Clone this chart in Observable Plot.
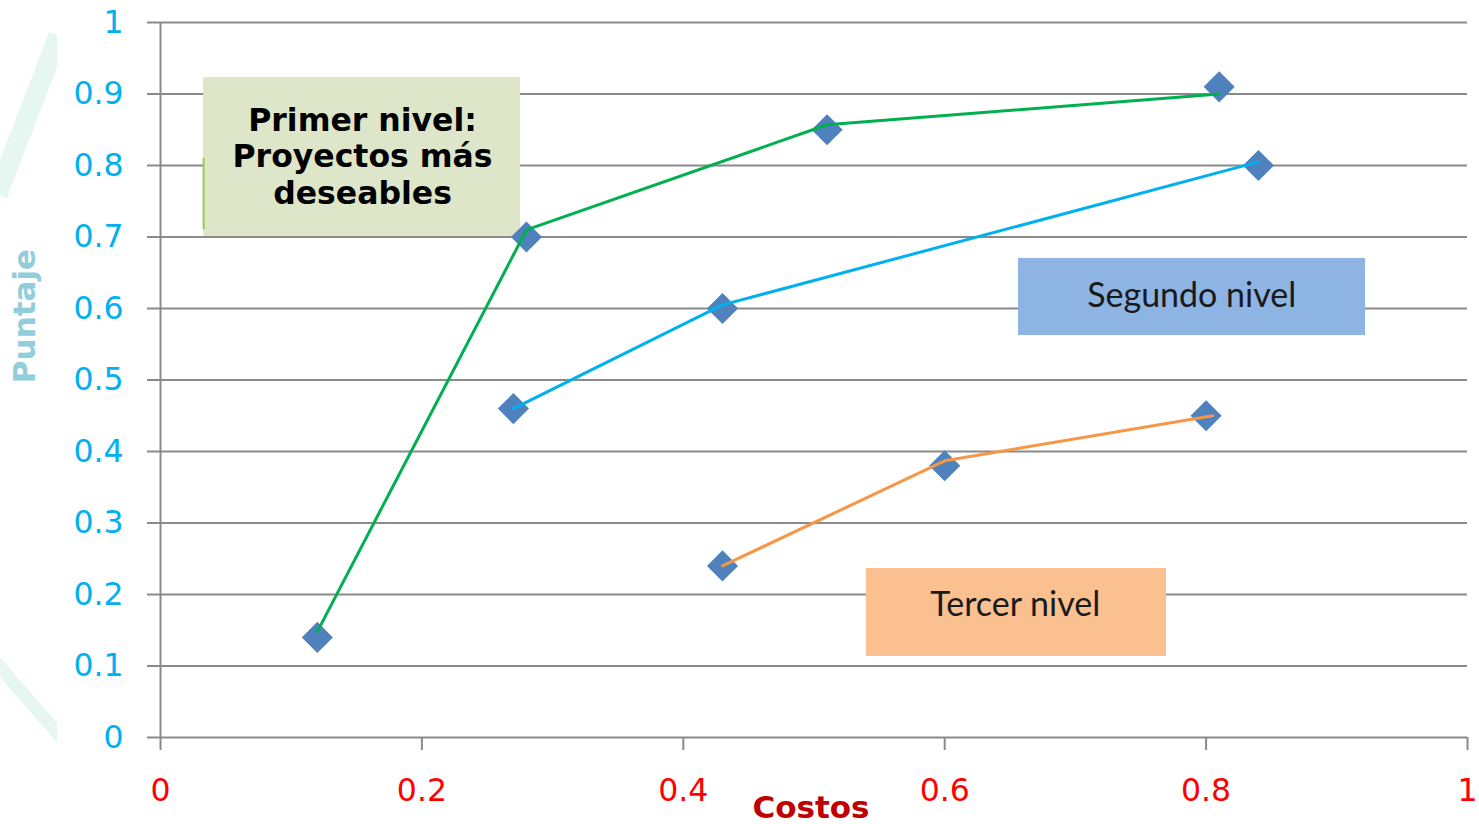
<!DOCTYPE html>
<html>
<head>
<meta charset="utf-8">
<script src="https://cdn.jsdelivr.net/npm/d3@7"></script>
<script src="https://cdn.jsdelivr.net/npm/@observablehq/plot@0.6"></script>
<style>
  html, body { margin: 0; padding: 0; background: #fff; }
  #wrap { position: relative; width: 1479px; height: 824px; overflow: hidden; }
  #decor { position: absolute; left: 0; top: 0; width: 57px; height: 824px; overflow: hidden; z-index: 0; }
  #decor .s1 { position: absolute; left: 18px; top: 30px; width: 20px; height: 170px; background: #e6f6f1; transform: rotate(21deg); }
  #decor .s2 { position: absolute; left: 22px; top: 640px; width: 13px; height: 120px; background: #e6f6f1; transform: rotate(-41deg); }
  #chart { position: absolute; left: 0; top: 0; z-index: 1; }
</style>
</head>
<body>
<div id="wrap">
  <div id="decor"><div class="s1"></div><div class="s2"></div></div>
  <div id="chart"></div>
</div>
<script>
// ---- Data ----
const xTicks = [0, 0.2, 0.4, 0.6, 0.8, 1];
const xTickLabels = ["0", "0.2", "0.4", "0.6", "0.8", "1"];
const yTicks = [0, 0.1, 0.2, 0.3, 0.4, 0.5, 0.6, 0.7, 0.8, 0.9, 1];
const yTickLabels = ["0", "0.1", "0.2", "0.3", "0.4", "0.5", "0.6", "0.7", "0.8", "0.9", "1"];

// Marker points (Costos, Puntaje)
const primerX = [0.12, 0.28, 0.51, 0.81];
const primerY = [0.14, 0.70, 0.85, 0.91];
const segundoX = [0.27, 0.43, 0.84];
const segundoY = [0.46, 0.60, 0.80];
const tercerX = [0.43, 0.60, 0.80];
const tercerY = [0.24, 0.38, 0.45];

// Connecting lines (drawn slightly off the markers, as in the original)
const primerLineX = [0.12, 0.28, 0.51, 0.81];
const primerLineY = [0.148, 0.71, 0.857, 0.90];
const segundoLineX = [0.27, 0.43, 0.84];
const segundoLineY = [0.46, 0.605, 0.805];
const tercerLineX = [0.43, 0.60, 0.805];
const tercerLineY = [0.24, 0.387, 0.45];

// Annotation boxes (data coordinates)
const boxNames = ["Primer nivel:\nProyectos más\ndeseables", "Segundo nivel", "Tercer nivel"];
const boxX1 = [0.033, 0.6565, 0.540];
const boxX2 = [0.2755, 0.922, 0.7697];
const boxY1 = [0.7007, 0.5622, 0.1133];
const boxY2 = [0.923, 0.670, 0.2364];
const boxTextX = [0.1546, 0.789, 0.654];
const boxTextY = [0.814, 0.617, 0.1846];
const boxFill = ["#dee6ca", "#8eb4e3", "#fac090"];

const xTitle = "Costos";
const yTitle = "Puntaje";

// ---- Tables ----
const zip = (xs, ys) => xs.map((x, i) => ({x, y: ys[i]}));
const points = [...zip(primerX, primerY), ...zip(segundoX, segundoY), ...zip(tercerX, tercerY)];
const boxes = boxNames.map((name, i) => ({
  name, x1: boxX1[i], x2: boxX2[i], y1: boxY1[i], y2: boxY2[i],
  tx: boxTextX[i], ty: boxTextY[i], fill: boxFill[i]
}));

const gridColor = "#8a8a8a";

const chart = Plot.plot({
  width: 1479,
  height: 824,
  marginLeft: 160,
  marginRight: 12,
  marginTop: 22,
  marginBottom: 87,
  style: {background: "transparent", fontFamily: "DejaVu Sans, Verdana, sans-serif", fontSize: "31px", overflow: "visible"},
  x: {domain: [0, 1]},
  y: {domain: [0, 1]},
  marks: [
    Plot.ruleY(yTicks, {x1: 0, x2: 1, stroke: gridColor, strokeWidth: 2}),
    Plot.ruleX([0], {y1: 0, y2: 1, stroke: gridColor, strokeWidth: 2}),
    Plot.axisY({
      ticks: yTicks, tickSize: 13, tickPadding: 24,
      tickFormat: d => yTickLabels[yTicks.indexOf(d)],
      stroke: gridColor, strokeWidth: 2, strokeOpacity: 1, fill: "#00b0f0", label: null,
      fontSize: 31.5
    }),
    Plot.axisX({
      ticks: xTicks, tickSize: 13, tickPadding: 28,
      tickFormat: d => xTickLabels[xTicks.indexOf(d)],
      stroke: gridColor, strokeWidth: 2, strokeOpacity: 1, fill: "#ff0000", label: null,
      fontSize: 31.5
    }),
    Plot.rect(boxes, {x1: "x1", x2: "x2", y1: "y1", y2: "y2", fill: "fill"}),
    Plot.ruleX([boxes[0]], {x: "x1", y1: 0.71, y2: 0.81, stroke: "#92d050", strokeWidth: 2}),
    Plot.text(boxes.slice(0, 1), {
      x: "tx", y: "ty", text: "name", fill: "#000", fontWeight: "bold", fontSize: 31.5,
      lineHeight: 1.16, fontFamily: "DejaVu Sans, Verdana, sans-serif"
    }),
    Plot.text(boxes.slice(1), {
      x: "tx", y: "ty", text: "name", fill: "#1a1a1a", fontSize: 34,
      fontFamily: "Lato, 'Open Sans', sans-serif"
    }),
    Plot.dot(points, {x: "x", y: "y", symbol: "diamond2", r: 14, fill: "#4f81bd", stroke: "none"}),
    Plot.line(zip(primerLineX, primerLineY), {x: "x", y: "y", stroke: "#00b050", strokeWidth: 3}),
    Plot.line(zip(segundoLineX, segundoLineY), {x: "x", y: "y", stroke: "#00b0f0", strokeWidth: 3}),
    Plot.line(zip(tercerLineX, tercerLineY), {x: "x", y: "y", stroke: "#f79646", strokeWidth: 3}),
    Plot.text([xTitle], {frameAnchor: "bottom", lineAnchor: "middle", textAnchor: "middle", dx: -3, dy: 71, fill: "#c00000", fontWeight: "bold", fontSize: 31}),
    Plot.text([yTitle], {frameAnchor: "left", textAnchor: "middle", lineAnchor: "middle", dx: -135, dy: -64, rotate: -90, fill: "#92cddc", fontWeight: "bold", fontSize: 31})
  ]
});
document.getElementById("chart").appendChild(chart);
</script>
</body>
</html>
